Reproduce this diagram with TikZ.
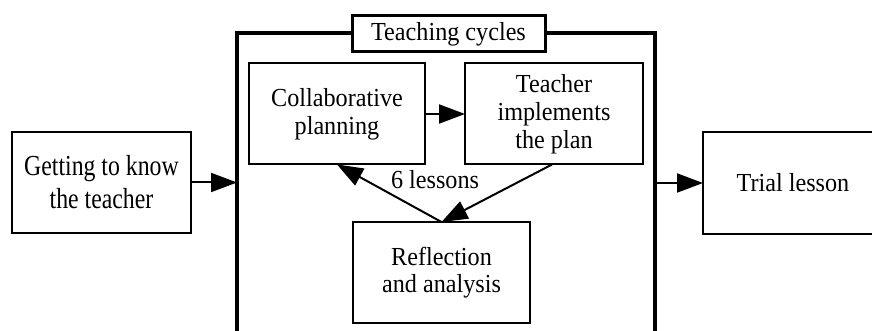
\documentclass[tikz,border=0pt]{standalone}
\usepackage{fontspec}
\setmainfont{Liberation Serif}
\newfontfamily\tnrfont[FakeStretch=0.93]{Liberation Serif}
\newfontfamily\tnrnarrow[FakeStretch=0.82]{Liberation Serif}
\usetikzlibrary{arrows.meta,calc}
\begin{document}
\begin{tikzpicture}[x=1pt,y=-1pt,
  every node/.style={font=\tnrfont\fontsize{26}{28}\selectfont, align=center, inner sep=0pt, outer sep=0pt},
  stepbox/.style={draw, line width=2pt, minimum width=#1, minimum height=101pt},
  stepbox/.default=178pt,
  conn/.style={line width=2pt, -{Triangle[length=26pt,width=19pt]}}]
\useasboundingbox (0,0) rectangle (872,331);
\clip (0,0) rectangle (872,331);
\fill[white] (0,0) rectangle (872,331);
% container
\node[draw, line width=4pt, minimum width=418pt, minimum height=312pt] (cyc) at (446,189) {};
\node[draw, fill=white, line width=3pt, minimum width=193pt, minimum height=36pt] (title) at (448.5,34) {Teaching cycles};
% steps
\node[stepbox=179pt, font=\tnrnarrow\fontsize{29}{33}\selectfont] (gt) at (101.5,182.5) {Getting to know\\the teacher};
\node[stepbox=180pt] (tl) at (793,183) {Trial lesson};
\node[stepbox=176pt] (cp) at (337,114) {Collaborative\\planning};
\node[stepbox=178pt] (ti) at (554,114) {Teacher\\implements\\the plan};
\node[stepbox=177pt, font=\tnrfont\fontsize{26}{27}\selectfont] (ra) at (441.5,272.5) {Reflection\\and analysis};
\node (lbl) at (435,180) {6 lessons};
% connectors
\draw[conn] (gt.east) -- (gt.east -| cyc.west);
\draw[conn] (tl.west -| cyc.east) -- (tl.west);
\draw[conn] (cp.east) -- (cp.east -| ti.west);
\draw[conn] ($(ti.south)+(-2,0)$) -- (ra.north);
\draw[conn] (ra.north) -- (cp.south);
\end{tikzpicture}
\end{document}
